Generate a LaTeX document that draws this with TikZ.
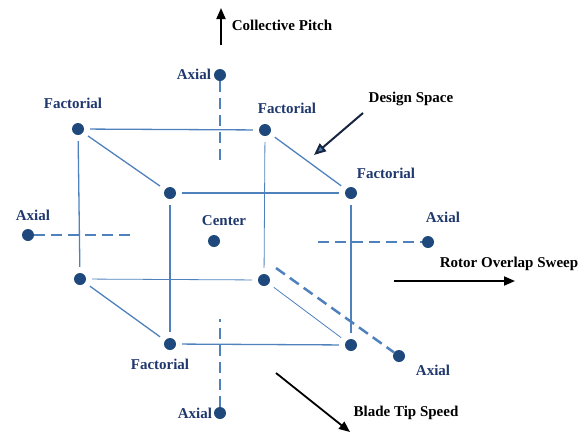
\documentclass[tikz,border=0pt]{standalone}
\usepackage{fontspec}
\setmainfont{Liberation Serif}
\usetikzlibrary{arrows.meta}
\definecolor{dotblue}{RGB}{31,73,125}
\definecolor{lineblue}{RGB}{79,129,189}
\definecolor{textblue}{RGB}{31,56,110}
\definecolor{navy}{RGB}{23,37,64}

\begin{document}
\begin{tikzpicture}
[x=1pt,y=-1pt,%
  every node/.style={inner sep=0pt},%
  pt/.style={shape=circle,fill=dotblue,minimum size=12pt},%
  lab/.style={text=textblue},%
  edge/.style={draw=lineblue,line width=1.3pt,shorten <=6pt,shorten >=6pt},%
  thinedge/.style={edge,line width=0.8pt},%
  axis/.style={draw=lineblue,line width=2.5pt,dash pattern=on 11pt off 6pt},%
  dir/.style={draw=black,line width=1.8pt,-{Triangle[length=11pt,width=9pt]}}]
\fontsize{15}{18}\selectfont\bfseries
\useasboundingbox (0,0) rectangle (584,432);

\node[pt] (f1) at (78,129) {};
\node[pt] (f2) at (265,130) {};
\node[pt] (f3) at (170,193) {};
\node[pt] (f4) at (351,193) {};
\node[pt] (b1) at (80,279) {};
\node[pt] (b2) at (264,280) {};
\node[pt] (b3) at (170,344) {};
\node[pt] (b4) at (351,345) {};
\node[pt] (ctr) at (214,241) {};
\node[pt] (axtop) at (220,75) {};
\node[pt] (axbot) at (220,413) {};
\node[pt] (axleft) at (28,235) {};
\node[pt] (axright) at (428,242) {};
\node[pt] (axfront) at (399,356) {};

% cube
\draw[edge] (f1) -- (f2);
\draw[edge] (f1) -- (f3);
\draw[edge] (f2) -- (f4);
\draw[edge] (f3) -- (f4);
\draw[edge] (f1) -- (b1);
\draw[edge] (f3) -- (b3);
\draw[edge] (f4) -- (b4);
\draw[edge] (b1) -- (b3);
\draw[edge] (b3) -- (b4);
\draw[thinedge] (f2) -- (b2);
\draw[thinedge] (b1) -- (b2);
\draw[thinedge] (b2) -- (b4);

% axial points
\coordinate (topend) at (220,166);
\coordinate (botend) at (220,319);
\coordinate (leftend) at (131,235);
\coordinate (rightend) at (318,242);
\coordinate (frontend) at (276,268);
\draw[axis] (axtop) -- (topend);
\draw[axis] (axbot) -- (botend);
\draw[axis] (axleft) -- (leftend);
\draw[axis] (rightend) -- (axright);
\draw[axis] (frontend) -- (axfront);

\node[lab] (lf1) at (73,103) {Factorial};
\node[lab] (lf2) at (287,108) {Factorial};
\node[lab] (lf4) at (386,173) {Factorial};
\node[lab] (lb3) at (160,364) {Factorial};
\node[lab] (lctr) at (224,221) {Center};
\node[lab] (laxtop) at (194,74) {Axial};
\node[lab] (laxleft) at (33,215) {Axial};
\node[lab] (laxright) at (443,217) {Axial};
\node[lab] (laxfront) at (433,370) {Axial};
\node[lab] (laxbot) at (195,413) {Axial};

% factors
\node (lcp) at (282,25) {Collective Pitch};
\node (lds) at (411,99) {Design Space};
\node (lros) at (509,264) {Rotor Overlap Sweep};
\node (lbts) at (406,413) {Blade Tip Speed};
\coordinate (cp0) at (221,45);
\coordinate (cp1) at (221,8);
\coordinate (ds0) at (363,113);
\coordinate (ds1) at (314,155);
\coordinate (ros0) at (394,281);
\coordinate (ros1) at (515,281);
\coordinate (bts0) at (276,373);
\coordinate (bts1) at (350,432);
\draw[dir] (cp0) -- (cp1);
\draw[dir] (ros0) -- (ros1);
\draw[dir] (bts0) -- (bts1);
\draw[draw=navy,line width=2pt,-{Triangle[length=12pt,width=10pt,fill=lineblue]}] (ds0) -- (ds1);
\end{tikzpicture}
\end{document}
